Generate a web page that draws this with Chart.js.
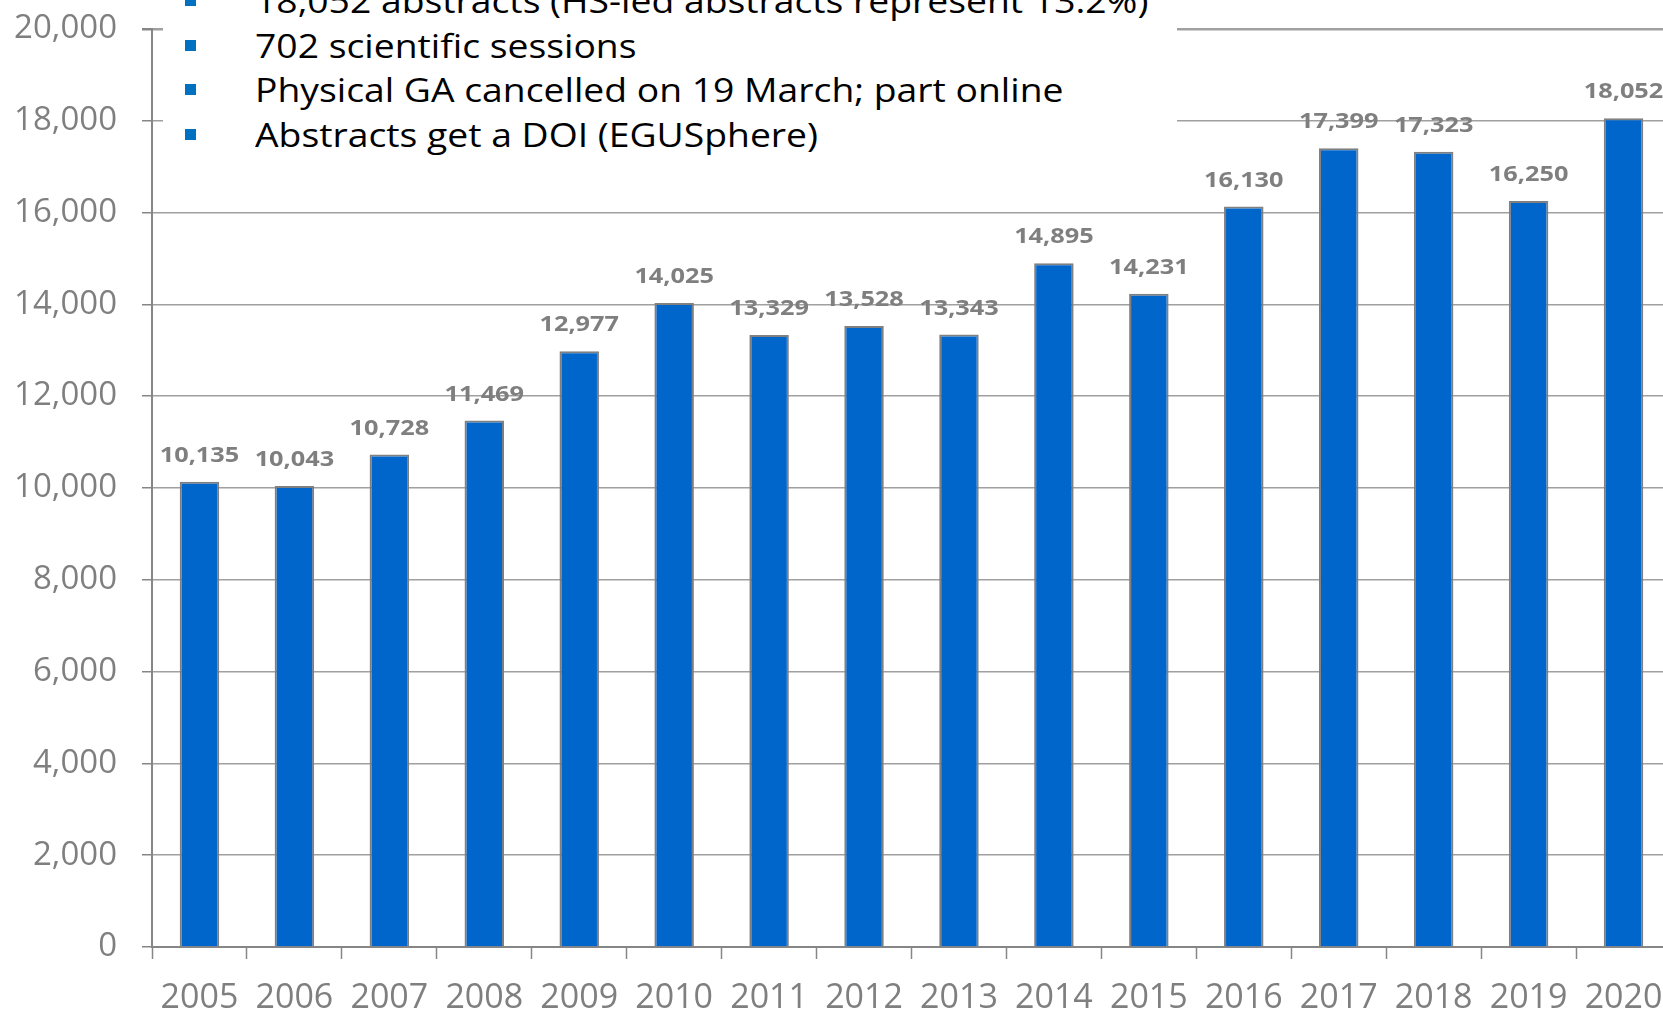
<!DOCTYPE html>
<html>
<head>
<meta charset="utf-8">
<script src="https://cdn.jsdelivr.net/npm/chart.js@4/dist/chart.umd.min.js"></script>
<style>
  html, body { margin: 0; padding: 0; background: #fff; overflow: hidden; }
  #wrap { position: relative; width: 1663px; height: 1011px; overflow: hidden; }
  #chart { position: absolute; left: 0; top: -16px; }
  .note {
    position: absolute; left: 163px; top: -21px; width: 1014px; height: 196px;
    background: #fff; font-family: 'Open Sans', sans-serif; font-size: 33px; color: #000;
  }
  .note div { position: relative; height: 44.5px; line-height: 44.5px; white-space: nowrap; }
  .note div span { position: absolute; left: 92px; top: 0; transform: scaleX(1.13); transform-origin: 0 50%; }
  .note div::before {
    content: ''; position: absolute; left: 22px; top: 16px; width: 11px; height: 11px; background: #0070c0;
  }
</style>
</head>
<body>
<div id="wrap">
  <canvas id="chart" width="1700" height="1027"></canvas>
  <div class="note">
    <div><span>18,052 abstracts (HS-led abstracts represent 13.2%)</span></div>
    <div><span>702 scientific sessions</span></div>
    <div><span>Physical GA cancelled on 19 March; part online</span></div>
    <div><span>Abstracts get a DOI (EGUSphere)</span></div>
  </div>
</div>
<script>
// Abstracts per year
const years = ['2005', '2006', '2007', '2008', '2009', '2010', '2011', '2012',
               '2013', '2014', '2015', '2016', '2017', '2018', '2019', '2020'];
const abstracts = [10135, 10043, 10728, 11469, 12977, 14025, 13329, 13528,
                   13343, 14895, 14231, 16130, 17399, 17323, 16250, 18052];
const yMin = 0;
const yMax = 20000;
const yStep = 2000;

const grey = '#7f7f7f';
const axisGrey = '#868686';

// value labels above bars (slightly stretched like the original)
const barLabels = {
    id: 'barLabels',
    afterDatasetsDraw(chart) {
        const ctx = chart.ctx;
        const meta = chart.getDatasetMeta(0);
        ctx.font = "bold 22px 'Open Sans'";
        ctx.fillStyle = grey;
        ctx.textAlign = 'center';
        ctx.textBaseline = 'middle';
        meta.data.forEach((bar, i) => {
            ctx.save();
            ctx.translate(bar.x, bar.y - 26);
            ctx.scale(1.15, 1);
            ctx.fillText(abstracts[i].toLocaleString('en-US'), 0, 0);
            ctx.restore();
        });
    }
};

new Chart(document.getElementById('chart'), {
    type: 'bar',
    data: {
        labels: years,
        datasets: [{
            data: abstracts,
            backgroundColor: '#0066cc',
            borderColor: '#808080',
            borderWidth: 2,
            categoryPercentage: 1,
            barPercentage: 0.416
        }]
    },
    plugins: [barLabels],
    options: {
        responsive: false,
        animation: false,
        devicePixelRatio: 1,
        layout: { padding: { top: 12, right: 29, bottom: 0, left: 0 } },
        plugins: {
            legend: { display: false },
            tooltip: { enabled: false }
        },
        scales: {
            x: {
                afterFit: (scale) => { scale.height = 64; },
                grid: {
                    offset: true,
                    drawOnChartArea: false,
                    tickLength: 12,
                    tickColor: axisGrey,
                    tickWidth: 1.5
                },
                border: { color: axisGrey, width: 2 },
                ticks: {
                    color: grey,
                    padding: 19,
                    maxRotation: 0,
                    autoSkip: false,
                    font: { family: 'Open Sans', size: 34 }
                }
            },
            y: {
                min: yMin,
                max: yMax,
                afterFit: (scale) => { scale.width = 152; },
                grid: {
                    color: '#a0a0a0',
                    lineWidth: (c) => c.tick && c.tick.value === yMax ? 2.5 : 1.5,
                    tickLength: 10,
                    tickColor: axisGrey
                },
                border: { color: axisGrey, width: 2 },
                ticks: {
                    stepSize: yStep,
                    color: grey,
                    padding: 25,
                    font: { family: 'Open Sans', size: 33 },
                    callback: (v) => v.toLocaleString('en-US')
                }
            }
        }
    }
});
</script>
</body>
</html>
